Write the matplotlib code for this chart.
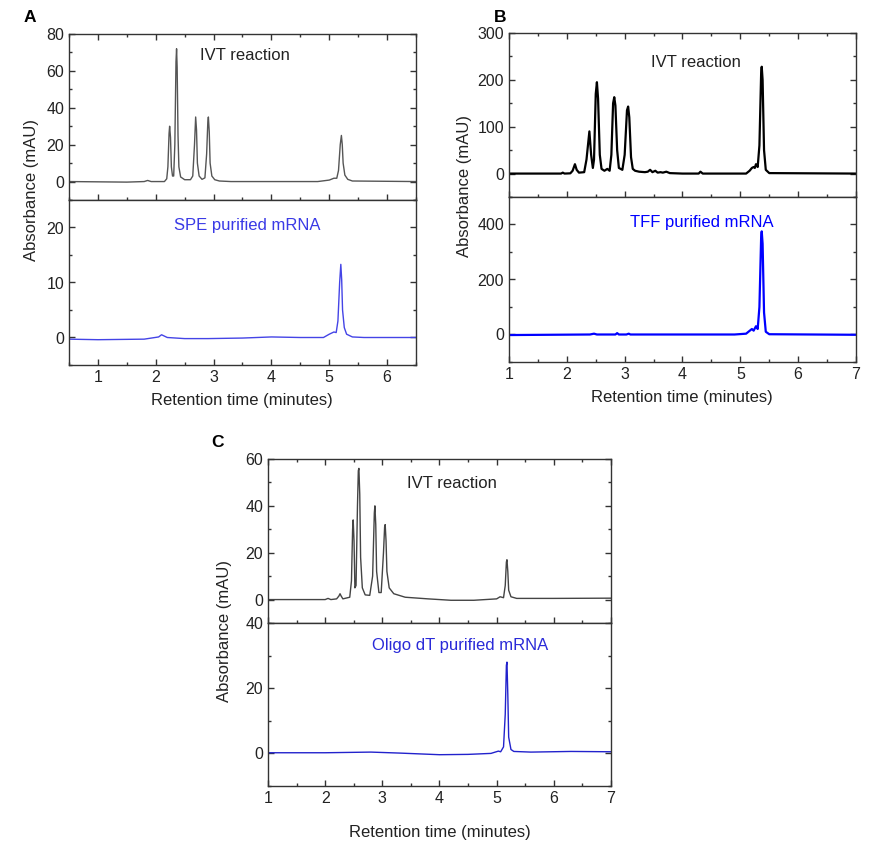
import matplotlib
matplotlib.use("Agg")
import matplotlib.pyplot as plt
from matplotlib.ticker import MultipleLocator

plt.rcParams['font.family'] = ['Liberation Sans', 'DejaVu Sans']

# ---------------- data (retention time in minutes, absorbance in mAU) ----------------
# Panel A, IVT reaction
a_ivt_t = [0.5, 1.5, 1.8, 1.86, 1.92, 2.15, 2.19, 2.21, 2.23, 2.24, 2.255, 2.27, 2.29, 2.31, 2.33,
           2.35, 2.36, 2.37, 2.385, 2.40, 2.43, 2.5, 2.6, 2.64, 2.67, 2.69, 2.705, 2.72, 2.75, 2.8,
           2.85, 2.88, 2.90, 2.91, 2.925, 2.94, 2.97, 3.02, 3.1, 3.3, 4.0, 4.8, 5.0, 5.08, 5.13,
           5.16, 5.19, 5.21, 5.225, 5.24, 5.27, 5.32, 5.4, 6.5]
a_ivt_y = [0, -0.3, 0, 0.6, 0, 0, 1.5, 8, 26, 30, 24, 8, 3, 3, 20,
           65, 72, 62, 25, 8, 2.5, 1, 1, 3, 20, 35, 28, 10, 3, 1.2,
           2, 15, 32, 35, 27, 10, 3, 1, 0.3, 0, 0, 0, 0.8, 1.8, 1.8,
           6, 20, 25, 20, 10, 3.5, 1.2, 0.3, 0]
# Panel A, SPE purified mRNA
a_pur_t = [0.5, 1.0, 1.8, 2.05, 2.1, 2.2, 2.5, 2.9, 3.5, 4.0, 4.5, 4.9, 5.0, 5.08, 5.12, 5.15,
           5.18, 5.2, 5.215, 5.23, 5.26, 5.3, 5.4, 5.6, 6.5]
a_pur_y = [-0.3, -0.4, -0.3, 0.1, 0.5, 0, -0.2, -0.2, -0.1, 0.1, 0, 0, 0.6, 1.0, 0.9, 3,
           10, 13.3, 10.5, 5, 1.8, 0.6, 0.1, 0, 0]
# Panel B, IVT reaction
b_ivt_t = [1.0, 1.9, 1.93, 1.96, 2.06, 2.1, 2.14, 2.17, 2.21, 2.3, 2.34, 2.39, 2.42, 2.45, 2.47,
           2.5, 2.52, 2.54, 2.57, 2.6, 2.65, 2.7, 2.74, 2.77, 2.8, 2.82, 2.84, 2.87, 2.9, 2.96,
           3.0, 3.04, 3.06, 3.08, 3.11, 3.14, 3.18, 3.25, 3.35, 3.4, 3.44, 3.48, 3.53, 3.57, 3.62,
           3.66, 3.72, 3.78, 4.0, 4.28, 4.31, 4.35, 5.1, 5.16, 5.2, 5.23, 5.25, 5.27, 5.3, 5.33,
           5.36, 5.37, 5.385, 5.41, 5.44, 5.5, 7.0]
b_ivt_y = [0, 0, 2, 0, 0.5, 6, 20, 8, 2, 3, 30, 90, 40, 12, 30,
           170, 195, 160, 40, 10, 6, 10, 6, 40, 150, 163, 145, 50, 12, 8,
           40, 135, 143, 120, 35, 10, 6, 4, 3, 4, 8, 3, 6, 2, 3,
           2, 4, 1, 0, 0, 4, 0, 0, 6, 12, 14, 12, 20, 14, 60,
           215, 228, 200, 50, 8, 1, 0]
# Panel B, TFF purified mRNA
b_pur_t = [1.0, 2.4, 2.47, 2.52, 2.84, 2.87, 2.9, 3.03, 3.07, 3.1, 4.9, 5.1, 5.17, 5.2, 5.23,
           5.27, 5.3, 5.33, 5.36, 5.37, 5.385, 5.41, 5.44, 5.5, 7.0]
b_pur_y = [-2, 0, 3, 0, 0, 5, 0, 0, 3, 0, 0, 3, 15, 20, 14,
           30, 20, 100, 355, 375, 330, 80, 10, 1, -1]
# Panel C, IVT reaction
c_ivt_t = [1.0, 2.0, 2.05, 2.1, 2.2, 2.24, 2.26, 2.28, 2.31, 2.43, 2.46, 2.48, 2.49, 2.505, 2.52,
           2.54, 2.565, 2.58, 2.59, 2.605, 2.62, 2.65, 2.7, 2.78, 2.83, 2.86, 2.87, 2.885, 2.9,
           2.94, 2.98, 3.02, 3.04, 3.05, 3.065, 3.08, 3.12, 3.2, 3.4, 3.8, 4.2, 4.6, 5.0, 5.06,
           5.12, 5.15, 5.17, 5.18, 5.195, 5.21, 5.25, 5.35, 6.0, 7.0]
c_ivt_y = [0, 0, 0.5, 0, 0.3, 1.5, 2.5, 1.5, 0.3, 1, 8, 30, 34, 25, 5,
           6, 40, 55, 56, 45, 18, 5, 2, 1.8, 10, 37, 40, 32, 12,
           3, 3, 20, 31, 32, 25, 12, 5, 2.5, 1, 0.3, -0.3, -0.3, 0.3, 1.2,
           0.8, 6, 16, 17, 12, 4, 1.2, 0.5, 0.5, 0.6]
# Panel C, Oligo dT purified mRNA
c_pur_t = [1.0, 2.0, 2.8, 3.3, 4.0, 4.5, 4.9, 5.03, 5.07, 5.12, 5.15, 5.17, 5.18, 5.195, 5.21,
           5.25, 5.3, 5.6, 6.3, 7.0]
c_pur_y = [0.2, 0.2, 0.4, 0.1, -0.4, -0.3, 0, 0.7, 0.5, 2, 12, 27, 28, 18, 5,
           1.2, 0.6, 0.4, 0.6, 0.5]

# ---------------- figure ----------------
W, H = 870, 847
fig = plt.figure(figsize=(W / 100, H / 100), dpi=100)


def px_axes(l, t, r, b):
    return fig.add_axes([l / W, 1 - b / H, (r - l) / W, (b - t) / H])


FS_TICK = 11.5
FS = 12
SPINE = '#333333'


def style(ax, xlim, ylim, ymaj, ymin, top_panel):
    ax.set_xlim(*xlim)
    ax.set_ylim(*ylim)
    ax.xaxis.set_major_locator(MultipleLocator(1))
    ax.xaxis.set_minor_locator(MultipleLocator(0.5))
    ax.yaxis.set_major_locator(MultipleLocator(ymaj))
    ax.yaxis.set_minor_locator(MultipleLocator(ymin))
    for s in ax.spines.values():
        s.set_color(SPINE)
        s.set_linewidth(1.0)
    ax.tick_params(which='both', direction='in', colors=SPINE, labelcolor='#222222',
                   labelsize=FS_TICK, right=True, top=top_panel, bottom=True)
    ax.tick_params(which='major', length=4, width=1)
    ax.tick_params(which='minor', length=2.5, width=1)
    if top_panel:
        ax.tick_params(labelbottom=False)


panels = [
    dict(top=(69, 34, 416, 200), bot=(69, 200, 416, 365), xlim=(0.5, 6.5),
         ylim_t=(-10, 80), tk_t=(20, 10), ylim_b=(-5, 25), tk_b=(10, 5),
         ivt=(a_ivt_t, a_ivt_y), pur=(a_pur_t, a_pur_y),
         c_ivt='#555555', c_pur='#4444e6', lw_ivt=1.0, lw_pur=1.0,
         txt_ivt=(3.55, 68.5), txt_pur=(3.59, 20.4), label_pur='SPE purified mRNA',
         c_txt_pur='#3a3ae6',
         xlab=(242, 400), ylab=(32, 190), letter=('A', 30, 17)),
    dict(top=(509, 33, 856, 197), bot=(509, 197, 856, 362), xlim=(1, 7),
         ylim_t=(-50, 300), tk_t=(100, 50), ylim_b=(-100, 500), tk_b=(200, 100),
         ivt=(b_ivt_t, b_ivt_y), pur=(b_pur_t, b_pur_y),
         c_ivt='#000000', c_pur='#0000ff', lw_ivt=1.6, lw_pur=1.6,
         txt_ivt=(4.24, 238), txt_pur=(4.34, 407), label_pur='TFF purified mRNA',
         c_txt_pur='#0000ff',
         xlab=(682, 397), ylab=(465, 186), letter=('B', 500, 17)),
    dict(top=(268, 459, 611, 623), bot=(268, 623, 611, 786), xlim=(1, 7),
         ylim_t=(-10, 60), tk_t=(20, 10), ylim_b=(-10, 40), tk_b=(20, 10),
         ivt=(c_ivt_t, c_ivt_y), pur=(c_pur_t, c_pur_y),
         c_ivt='#444444', c_pur='#2222cc', lw_ivt=1.0, lw_pur=1.0,
         txt_ivt=(4.22, 49.7), txt_pur=(4.36, 33.2), label_pur='Oligo dT purified mRNA',
         c_txt_pur='#2a2ad8',
         xlab=(440, 832), ylab=(225, 631), letter=('C', 218, 442)),
]

for p in panels:
    axt = px_axes(*p['top'])
    axb = px_axes(*p['bot'])
    style(axt, p['xlim'], p['ylim_t'], *p['tk_t'], top_panel=True)
    style(axb, p['xlim'], p['ylim_b'], *p['tk_b'], top_panel=False)
    axt.plot(*p['ivt'], color=p['c_ivt'], lw=p['lw_ivt'])
    axb.plot(*p['pur'], color=p['c_pur'], lw=p['lw_pur'])
    axt.text(*p['txt_ivt'], 'IVT reaction', ha='center', va='center', fontsize=FS, color='#222222')
    axb.text(*p['txt_pur'], p['label_pur'], ha='center', va='center', fontsize=FS,
             color=p['c_txt_pur'])
    fig.text(p['xlab'][0] / W, 1 - p['xlab'][1] / H, 'Retention time (minutes)',
             ha='center', va='center', fontsize=FS, color='#222222')
    fig.text(p['ylab'][0] / W, 1 - p['ylab'][1] / H, 'Absorbance (mAU)',
             ha='center', va='center', rotation=90, fontsize=FS, color='#222222')
    L, lx, ly = p['letter']
    fig.text(lx / W, 1 - ly / H, L, ha='center', va='center', fontsize=12.5,
             fontweight='bold', color='black')

fig.savefig('out.png', dpi=100)
